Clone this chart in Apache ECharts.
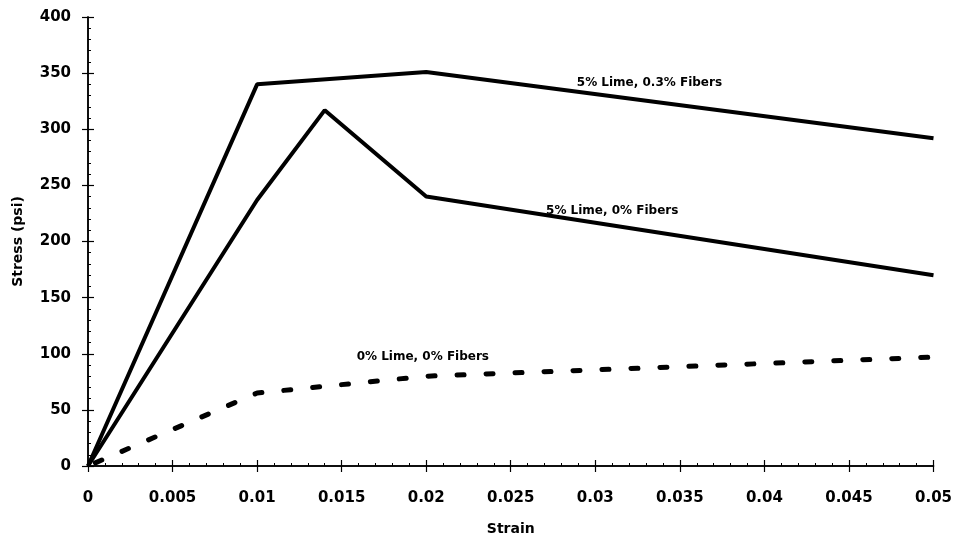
<!DOCTYPE html>
<html>
<head>
<meta charset="utf-8">
<script src="https://cdn.jsdelivr.net/npm/echarts@6/dist/echarts.min.js"></script>
<style>html,body{margin:0;padding:0;background:#fff;}#c{width:955px;height:541px;}</style>
</head>
<body>
<div id="c"></div>
<script>
// Data
var strainLimeFibers = [0, 0.01, 0.02, 0.05];
var stressLimeFibers = [0, 340, 351, 292];
var strainLime = [0, 0.01, 0.014, 0.02, 0.05];
var stressLime = [0, 237, 317, 240, 170];
var strainPlain = [0, 0.01, 0.02, 0.05];
var stressPlain = [0, 65, 80, 97];
var seriesNames = ['5% Lime, 0.3% Fibers', '5% Lime, 0% Fibers', '0% Lime, 0% Fibers'];
var labelCoords = [[0.0332, 341], [0.0310, 227], [0.0198, 97]];
var xTickLabels = ['0', '0.005', '0.01', '0.015', '0.02', '0.025', '0.03', '0.035', '0.04', '0.045', '0.05'];
var yTickLabels = ['0', '50', '100', '150', '200', '250', '300', '350', '400'];

function pairs(xs, ys) { return xs.map(function (x, i) { return [x, ys[i]]; }); }

var font = 'DejaVu Sans';
var chart = echarts.init(document.getElementById('c'), null, { renderer: 'canvas' });

function xAxisCfg(inside, showLabel) {
  return {
    type: 'value', min: 0, max: 0.05, interval: 0.005, position: 'bottom',
    name: showLabel ? 'Strain' : '', nameLocation: 'middle', nameGap: 56,
    nameTextStyle: { fontFamily: font, fontWeight: 'bold', fontSize: 14, color: '#000' },
    axisLine: { show: true, lineStyle: { color: '#000', width: 1.5 } },
    axisTick: { show: true, inside: inside, length: 6, lineStyle: { color: '#000', width: 1.2 } },
    minorTick: { show: inside, splitNumber: 5, length: 3, lineStyle: { color: '#000', width: 1 } },
    splitLine: { show: false },
    axisLabel: {
      show: showLabel, margin: 25, fontFamily: font, fontWeight: 'bold', fontSize: 15, color: '#000',
      formatter: function (v) { return xTickLabels[Math.round(v / 0.005)]; }
    }
  };
}
function yAxisCfg(inside, showLabel) {
  return {
    type: 'value', min: 0, max: 400, interval: 50, position: 'left',
    name: showLabel ? 'Stress (psi)' : '', nameLocation: 'middle', nameGap: 63, nameRotate: 90,
    nameTextStyle: { fontFamily: font, fontWeight: 'bold', fontSize: 14, color: '#000' },
    axisLine: { show: true, lineStyle: { color: '#000', width: 1.5 } },
    axisTick: { show: true, inside: inside, length: 6, lineStyle: { color: '#000', width: 1.2 } },
    minorTick: { show: inside, splitNumber: 5, length: 3, lineStyle: { color: '#000', width: 1 } },
    splitLine: { show: false },
    axisLabel: {
      show: showLabel, margin: 17, fontFamily: font, fontWeight: 'bold', fontSize: 15, color: '#000',
      formatter: function (v) { return yTickLabels[Math.round(v / 50)]; }
    }
  };
}

function labelPoint(i) {
  return {
    symbol: 'circle', symbolSize: 0, silent: true,
    label: { show: true, position: 'inside', formatter: seriesNames[i], fontFamily: font, fontWeight: 'bold', fontSize: 12, color: '#000' },
    data: [{ coord: labelCoords[i] }]
  };
}

chart.setOption({
  backgroundColor: '#fff',
  animation: false,
  grid: { left: 88, right: 21, top: 17, bottom: 74 },
  xAxis: [xAxisCfg(false, true), xAxisCfg(true, false)],
  yAxis: [yAxisCfg(false, true), yAxisCfg(true, false)],
  series: [
    {
      name: seriesNames[0], type: 'line', data: pairs(strainLimeFibers, stressLimeFibers),
      showSymbol: false, lineStyle: { color: '#000', width: 4 }, markPoint: labelPoint(0)
    },
    {
      name: seriesNames[1], type: 'line', data: pairs(strainLime, stressLime),
      showSymbol: false, lineStyle: { color: '#000', width: 4 }, markPoint: labelPoint(1)
    },
    {
      name: seriesNames[2], type: 'line', data: pairs(strainPlain, stressPlain),
      showSymbol: false, lineStyle: { color: '#000', width: 5, type: [7, 22], dashOffset: -8, cap: 'round' }, markPoint: labelPoint(2)
    }
  ]
});
</script>
</body>
</html>
